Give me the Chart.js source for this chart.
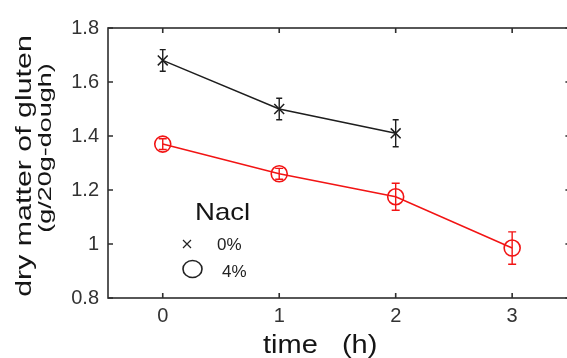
<!DOCTYPE html>
<html>
<head>
<meta charset="utf-8">
<script src="https://cdn.jsdelivr.net/npm/chart.js@4.4.1/dist/chart.umd.min.js"></script>
<style>
  html, body { margin: 0; padding: 0; background: #fff; overflow: hidden; }
  #wrap { width: 567px; height: 358px; overflow: hidden; }
</style>
</head>
<body>
<div id="wrap"><canvas id="glutenChart" width="580" height="358"></canvas></div>
<script>
// dough time (h) and dry gluten per 20 g dough, mean +/- error
const timeHours = [0, 1, 2, 3];
const salt0Values = [1.68, 1.50, 1.41];
const salt0Errors = [0.04, 0.04, 0.05];
const salt4Values = [1.37, 1.26, 1.175, 0.985];
const salt4Errors = [0.02, 0.02, 0.05, 0.06];

const xTicks = [0, 1, 2, 3];
const yTicks = [0.8, 1, 1.2, 1.4, 1.6, 1.8];

const FONT = '"Liberation Sans", Arial, Helvetica, sans-serif';
const AXIS_COLOR = '#2e2e2e';
const BLACK = '#1e1e1e';
const RED = '#f21414';

const toPoints = (vals) => vals.map((v, i) => ({ x: timeHours[i], y: v }));

// text stretched along its own direction
function stretchText(ctx, text, x, y, angle, sx, size, align) {
  ctx.save();
  ctx.translate(x, y);
  ctx.rotate(angle);
  ctx.scale(sx, 1);
  ctx.font = size + 'px ' + FONT;
  ctx.textAlign = align || 'left';
  ctx.textBaseline = 'alphabetic';
  ctx.fillText(text, 0, 0);
  ctx.restore();
}

const errorBars = {
  id: 'errorBars',
  afterDatasetsDraw(chart) {
    const ctx = chart.ctx;
    const xs = chart.scales.x, ys = chart.scales.y;
    chart.data.datasets.forEach((ds) => {
      ctx.save();
      ctx.strokeStyle = ds.borderColor;
      ctx.lineWidth = 1.4;
      ds.data.forEach((p, i) => {
        const err = ds.errors[i];
        const px = xs.getPixelForValue(p.x);
        const top = ys.getPixelForValue(p.y + err);
        const bot = ys.getPixelForValue(p.y - err);
        const cap = ds.capWidth;
        ctx.beginPath();
        ctx.moveTo(px, top); ctx.lineTo(px, bot);
        ctx.moveTo(px - cap, top); ctx.lineTo(px + cap, top);
        ctx.moveTo(px - cap, bot); ctx.lineTo(px + cap, bot);
        ctx.stroke();
      });
      ctx.restore();
    });
  }
};

// closed box with inward ticks on all four sides
const boxFrame = {
  id: 'boxFrame',
  afterDraw(chart) {
    const { ctx, chartArea: a } = chart;
    const xs = chart.scales.x, ys = chart.scales.y;
    const len = 5;
    ctx.save();
    ctx.strokeStyle = AXIS_COLOR;
    ctx.lineWidth = 1.6;
    ctx.strokeRect(a.left, a.top, a.right - a.left, a.bottom - a.top);
    ctx.beginPath();
    xTicks.forEach((v) => {
      const px = xs.getPixelForValue(v);
      ctx.moveTo(px, a.bottom); ctx.lineTo(px, a.bottom - len);
      ctx.moveTo(px, a.top); ctx.lineTo(px, a.top + len);
    });
    yTicks.forEach((v) => {
      const py = ys.getPixelForValue(v);
      ctx.moveTo(a.left, py); ctx.lineTo(a.left + len, py);
      ctx.moveTo(a.right, py); ctx.lineTo(a.right - len, py);
    });
    ctx.stroke();
    ctx.restore();
  }
};

const titlesAndKey = {
  id: 'titlesAndKey',
  afterDraw(chart) {
    const { ctx, chartArea: a } = chart;
    ctx.save();
    ctx.fillStyle = '#151515';
    // y axis title, two lines
    stretchText(ctx, 'dry matter of gluten', 31, 166, -Math.PI / 2, 1.38, 22, 'center');
    stretchText(ctx, '(g/20g-dough)', 51, 148, -Math.PI / 2, 1.5, 18, 'center');
    // x axis title
    stretchText(ctx, 'time   (h)', 263, 353, 0, 1.16, 25, 'left');

    // key inside the axes
    const kx = a.left, ky = a.bottom;
    stretchText(ctx, 'Nacl', kx + 87, ky - 78, 0, 1.15, 24, 'left');
    ctx.fillStyle = '#222';
    stretchText(ctx, '0%', kx + 109, ky - 48, 0, 1.0, 17, 'left');
    stretchText(ctx, '4%', kx + 114, ky - 21, 0, 1.0, 17, 'left');
    ctx.strokeStyle = '#222';
    ctx.lineWidth = 1.2;
    ctx.beginPath();
    ctx.moveTo(kx + 75, ky - 58); ctx.lineTo(kx + 83, ky - 50);
    ctx.moveTo(kx + 83, ky - 58); ctx.lineTo(kx + 75, ky - 50);
    ctx.stroke();
    ctx.lineWidth = 1.6;
    ctx.beginPath();
    ctx.ellipse(kx + 84.5, ky - 29, 9.5, 8.5, 0, 0, Math.PI * 2);
    ctx.stroke();
    ctx.restore();
  }
};

new Chart(document.getElementById('glutenChart'), {
  type: 'line',
  data: {
    datasets: [
      {
        label: '0%',
        data: toPoints(salt0Values),
        errors: salt0Errors,
        capWidth: 3,
        borderColor: BLACK,
        backgroundColor: BLACK,
        borderWidth: 1.5,
        pointStyle: 'crossRot',
        pointRadius: 7,
        pointBorderWidth: 1.5,
        tension: 0
      },
      {
        label: '4%',
        data: toPoints(salt4Values),
        errors: salt4Errors,
        capWidth: 4,
        borderColor: RED,
        backgroundColor: 'rgba(0,0,0,0)',
        borderWidth: 1.5,
        pointStyle: 'circle',
        pointRadius: 8,
        pointBorderWidth: 1.6,
        tension: 0
      }
    ]
  },
  options: {
    responsive: false,
    animation: false,
    devicePixelRatio: 1,
    layout: { padding: { top: 28, right: 6, bottom: 0, left: 0 } },
    plugins: {
      legend: { display: false },
      tooltip: { enabled: false }
    },
    scales: {
      x: {
        type: 'linear',
        min: -0.47,
        max: 3.5,
        afterBuildTicks: (s) => { s.ticks = xTicks.map((v) => ({ value: v })); },
        afterFit: (s) => { s.height = 60; },
        grid: { display: false, drawTicks: false },
        border: { display: false },
        ticks: {
          color: '#333',
          font: { family: FONT, size: 20 },
          padding: 6,
          maxRotation: 0,
          callback: (v) => String(v)
        }
      },
      y: {
        min: 0.8,
        max: 1.8,
        afterBuildTicks: (s) => { s.ticks = yTicks.map((v) => ({ value: v })); },
        afterFit: (s) => { s.width = 108; },
        grid: { display: false, drawTicks: false },
        border: { display: false },
        ticks: {
          color: '#333',
          font: { family: FONT, size: 20 },
          padding: 9,
          callback: (v) => String(+Number(v).toFixed(1))
        }
      }
    }
  },
  plugins: [errorBars, boxFrame, titlesAndKey]
});
</script>
</body>
</html>
